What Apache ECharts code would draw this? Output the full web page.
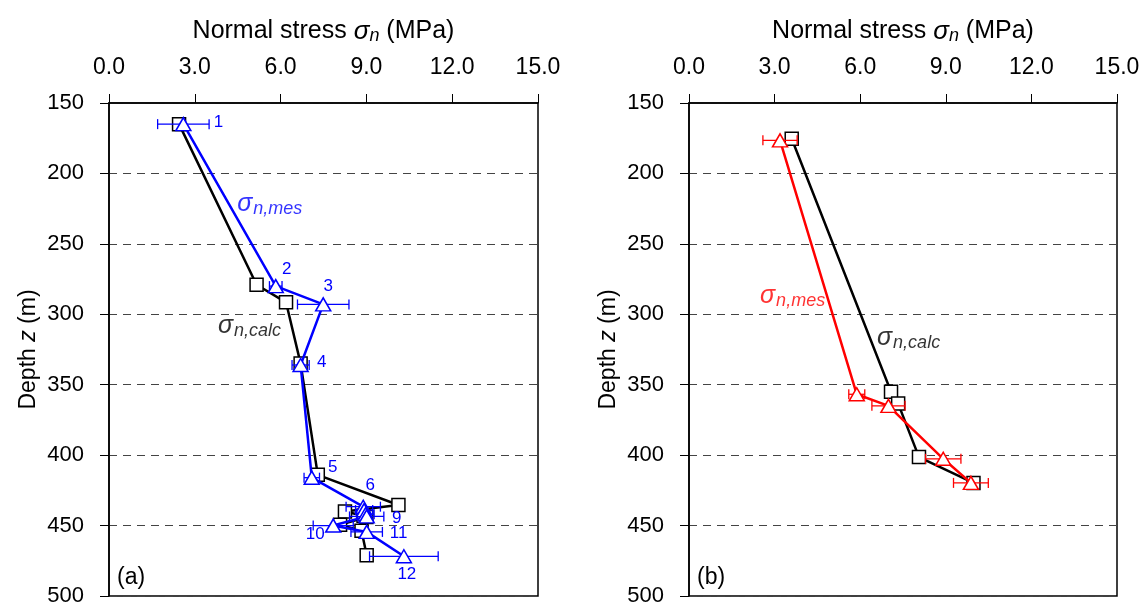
<!DOCTYPE html>
<html>
<head>
<meta charset="utf-8">
<script src="https://cdn.jsdelivr.net/npm/echarts@6/dist/echarts.min.js"></script>
<style>html,body{margin:0;padding:0;background:#fff}#c{width:1143px;height:607px}</style>
</head>
<body>
<div id="c"></div>
<script>
// ---------- data ----------
const xTicks = [0, 3, 6, 9, 12, 15];
const depthRange = [150, 500];

// Panel (a)
const aCalcStress = [2.45, 5.16, 6.19, 6.70, 7.30, 10.12, 8.25, 8.90, 9.00, 8.08, 8.83, 9.01];
const aCalcDepth  = [165, 279, 291.5, 335, 414, 435.4, 440, 443, 444, 449.5, 453.7, 471];
const aMesStress  = [2.60, 5.83, 7.49, 6.70, 7.09, 8.89, 8.92, 8.97, 9.01, 7.84, 9.01, 10.31];
const aMesDepth   = [165, 280, 293, 336, 416, 436.6, 439, 442, 443.5, 450, 454.5, 471.8];
const aMesErr     = [0.90, 0.22, 0.90, 0.30, 0.27, 0.60, 0.30, 0.30, 0.60, 0.70, 0.55, 1.20];
const aPointNames = ['1','2','3','4','5','6','','','9','10','11','12'];

// Panel (b)
const bCalcStress = [3.60, 7.08, 7.33, 8.06, 9.97];
const bCalcDepth  = [175.4, 355, 363.4, 401.4, 419.7];
const bMesStress  = [3.19, 5.88, 6.99, 8.91, 9.88];
const bMesDepth   = [176.5, 356.8, 365, 402.6, 419.7];
const bMesErr     = [0.60, 0.28, 0.58, 0.62, 0.61];

// annotation anchors (stress, depth)
const aMesNote = [4.48, 222];
const aCalcNote = [3.81, 308.5];
const bMesNote = [2.49, 287];
const bCalcNote = [6.59, 317];

// ---------- styling ----------
const FONT = 'Liberation Sans, Arial, Helvetica, sans-serif';
const BLUE = '#0000ff', RED = '#ff0000', BLACK = '#000';
const labelOffsets = [[35,-2],[11,-17],[5,-18],[21,-3],[21,-10],[7,-21],[0,0],[0,0],[30,2],[-18,9],[32,1],[3,18]];

const zip = (xs, ys) => xs.map((v, i) => [v, ys[i]]);
const errData = (xs, ys, es) => xs.map((v, i) => [v - es[i], v + es[i], ys[i]]);

function errSeries(idx, data, color) {
  return {
    type: 'custom', xAxisIndex: idx, yAxisIndex: idx, z: 3,
    data: data, encode: {x: [0, 1], y: 2},
    renderItem: function (params, api) {
      const lo = api.coord([api.value(0), api.value(2)]);
      const hi = api.coord([api.value(1), api.value(2)]);
      const h = 5;
      const st = {stroke: color, lineWidth: 1.3};
      return {type: 'group', children: [
        {type: 'line', shape: {x1: lo[0], y1: lo[1], x2: hi[0], y2: hi[1]}, style: st},
        {type: 'line', shape: {x1: lo[0], y1: lo[1]-h, x2: lo[0], y2: lo[1]+h}, style: st},
        {type: 'line', shape: {x1: hi[0], y1: hi[1]-h, x2: hi[0], y2: hi[1]+h}, style: st}
      ]};
    }
  };
}

function sigmaRich(color) {
  return {
    s: {fontFamily: FONT, fontStyle: 'italic', fontSize: 25, color: color},
    sub: {fontFamily: FONT, fontStyle: 'italic', fontSize: 18, color: color, padding: [10, 0, 0, 1]}
  };
}
function noteSeries(idx, pos, sub, color) {
  return {
    type: 'scatter', xAxisIndex: idx, yAxisIndex: idx, symbolSize: 0, silent: true, z: 6,
    data: [pos],
    label: {show: true, position: 'right', distance: 0, formatter: '{s|σ}{sub|' + sub + '}', rich: sigmaRich(color)}
  };
}

function xAxis(idx) {
  return {
    gridIndex: idx, type: 'value', position: 'top', min: 0, max: 15, interval: 3,
    name: '{t|Normal stress }{s|σ}{n|n}{t| (MPa)}', nameLocation: 'middle', nameGap: 58,
    nameTextStyle: {rich: {
      t: {fontFamily: FONT, fontSize: 25, color: '#000'},
      s: {fontFamily: FONT, fontSize: 26, fontStyle: 'italic', color: '#000'},
      n: {fontFamily: FONT, fontSize: 18, fontStyle: 'italic', color: '#000', padding: [9, 0, 0, 0]}
    }},
    axisLine: {show: true, lineStyle: {color: '#000', width: 1.5}},
    axisTick: {show: true, inside: false, length: 9, lineStyle: {color: '#000', width: 1}},
    axisLabel: {fontFamily: FONT, fontSize: 23, color: '#000', margin: 24,
      formatter: v => xTicks.indexOf(v) >= 0 ? v.toFixed(1) : ''},
    splitLine: {show: false}
  };
}
function yAxis(idx) {
  return {
    gridIndex: idx, type: 'value', inverse: true, min: depthRange[0], max: depthRange[1], interval: 50,
    name: '{t|Depth }{i|z}{t| (m)}', nameLocation: 'middle', nameGap: 69, nameRotate: 90,
    nameTextStyle: {rich: {
      t: {fontFamily: FONT, fontSize: 23, color: '#000'},
      i: {fontFamily: FONT, fontSize: 23, fontStyle: 'italic', color: '#000'}
    }},
    axisLine: {show: true, lineStyle: {color: '#000', width: 1.5}},
    axisTick: {show: true, inside: false, length: 9, lineStyle: {color: '#000', width: 1}},
    axisLabel: {fontFamily: FONT, fontSize: 22, color: '#000', margin: 25},
    splitLine: {show: true, lineStyle: {color: '#444', type: [8, 6], width: 1}}
  };
}

const chart = echarts.init(document.getElementById('c'), null, {renderer: 'canvas'});
chart.setOption({
  animation: false,
  backgroundColor: '#fff',
  grid: [
    {left: 109, right: 605, top: 103, bottom: 6, show: true, borderColor: '#000', borderWidth: 1.5, backgroundColor: 'transparent'},
    {left: 689, right: 26, top: 103, bottom: 6, show: true, borderColor: '#000', borderWidth: 1.5, backgroundColor: 'transparent'}
  ],
  xAxis: [xAxis(0), xAxis(1)],
  yAxis: [yAxis(0), yAxis(1)],
  series: [
    // panel a
    {type: 'line', xAxisIndex: 0, yAxisIndex: 0, data: zip(aCalcStress, aCalcDepth), z: 2,
     symbol: 'rect', symbolSize: 13, showAllSymbol: true,
     lineStyle: {color: BLACK, width: 2.5}, itemStyle: {color: '#fff', borderColor: BLACK, borderWidth: 1.5}},
    errSeries(0, errData(aMesStress, aMesDepth, aMesErr), BLUE),
    {type: 'line', xAxisIndex: 0, yAxisIndex: 0, data: zip(aMesStress, aMesDepth), z: 4,
     symbol: 'triangle', symbolSize: [15, 13], showAllSymbol: true,
     lineStyle: {color: BLUE, width: 2.5}, itemStyle: {color: '#fff', borderColor: BLUE, borderWidth: 1.5},
     label: {show: true, position: 'inside', fontFamily: FONT, fontSize: 17, color: BLUE,
       formatter: p => aPointNames[p.dataIndex]},
     labelLayout: p => ({dx: labelOffsets[p.dataIndex][0], dy: labelOffsets[p.dataIndex][1]})},
    noteSeries(0, aMesNote, 'n,mes', BLUE),
    noteSeries(0, aCalcNote, 'n,calc', BLACK),
    // panel b
    {type: 'line', xAxisIndex: 1, yAxisIndex: 1, data: zip(bCalcStress, bCalcDepth), z: 2,
     symbol: 'rect', symbolSize: 13, showAllSymbol: true,
     lineStyle: {color: BLACK, width: 2.5}, itemStyle: {color: '#fff', borderColor: BLACK, borderWidth: 1.5}},
    errSeries(1, errData(bMesStress, bMesDepth, bMesErr), RED),
    {type: 'line', xAxisIndex: 1, yAxisIndex: 1, data: zip(bMesStress, bMesDepth), z: 4,
     symbol: 'triangle', symbolSize: [15, 13], showAllSymbol: true,
     lineStyle: {color: RED, width: 2.5}, itemStyle: {color: '#fff', borderColor: RED, borderWidth: 1.5}},
    noteSeries(1, bMesNote, 'n,mes', RED),
    noteSeries(1, bCalcNote, 'n,calc', BLACK)
  ],
  graphic: [
    {type: 'text', left: 117, top: 566, style: {text: '(a)', font: '23px ' + FONT, fill: '#000'}},
    {type: 'text', left: 697, top: 566, style: {text: '(b)', font: '23px ' + FONT, fill: '#000'}}
  ]
});
</script>
</body>
</html>
